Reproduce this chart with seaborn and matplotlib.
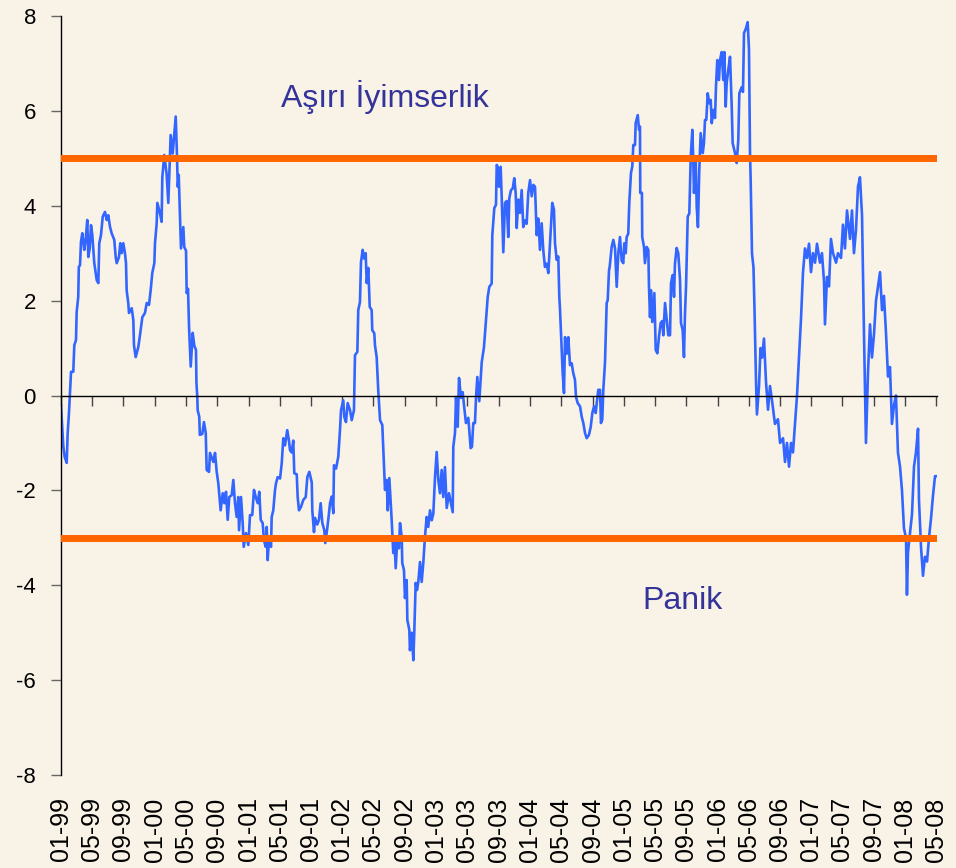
import numpy as np
import pandas as pd
import matplotlib
matplotlib.use("Agg")
import matplotlib.pyplot as plt
import matplotlib.dates as mdates
import seaborn as sns

# sentiment index, time as fractional year
years = [
    1999.000, 1999.025, 1999.040, 1999.061, 1999.071, 1999.085, 1999.096, 1999.107, 1999.131, 1999.142,
    1999.160, 1999.167, 1999.184, 1999.190, 1999.203, 1999.213, 1999.227, 1999.248, 1999.263, 1999.280,
    1999.291, 1999.306, 1999.320, 1999.334, 1999.355, 1999.381, 1999.398, 1999.408, 1999.426, 1999.445,
    1999.469, 1999.487, 1999.504, 1999.522, 1999.540, 1999.568, 1999.583, 1999.594, 1999.618, 1999.632,
    1999.647, 1999.664, 1999.682, 1999.693, 1999.700, 1999.717, 1999.725, 1999.754, 1999.771, 1999.778,
    1999.796, 1999.824, 1999.842, 1999.867, 1999.895, 1999.914, 1999.938, 1999.956, 1999.973, 1999.995,
    2000.002, 2000.020, 2000.027, 2000.055, 2000.073, 2000.080, 2000.101, 2000.126, 2000.144, 2000.169,
    2000.191, 2000.223, 2000.235, 2000.245, 2000.255, 2000.279, 2000.304, 2000.314, 2000.333, 2000.340,
    2000.354, 2000.365, 2000.383, 2000.404, 2000.421, 2000.439, 2000.444, 2000.453, 2000.457, 2000.474,
    2000.480, 2000.506, 2000.524, 2000.543, 2000.553, 2000.578, 2000.588, 2000.624, 2000.642, 2000.660,
    2000.677, 2000.702, 2000.724, 2000.741, 2000.759, 2000.777, 2000.794, 2000.820, 2000.837, 2000.855,
    2000.873, 2000.890, 2000.898, 2000.919, 2000.937, 2000.948, 2000.972, 2000.997, 2001.015, 2001.039,
    2001.057, 2001.076, 2001.097, 2001.114, 2001.129, 2001.150, 2001.164, 2001.182, 2001.193, 2001.203,
    2001.217, 2001.239, 2001.246, 2001.263, 2001.281, 2001.292, 2001.310, 2001.335, 2001.353, 2001.370,
    2001.388, 2001.412, 2001.430, 2001.441, 2001.459, 2001.476, 2001.487, 2001.513, 2001.523, 2001.537,
    2001.558, 2001.583, 2001.609, 2001.626, 2001.647, 2001.673, 2001.679, 2001.697, 2001.708, 2001.732,
    2001.750, 2001.768, 2001.786, 2001.807, 2001.817, 2001.839, 2001.857, 2001.868, 2001.886, 2001.903,
    2001.910, 2001.932, 2001.956, 2001.974, 2001.985, 2002.009, 2002.020, 2002.038, 2002.056, 2002.081,
    2002.099, 2002.123, 2002.134, 2002.159, 2002.169, 2002.187, 2002.198, 2002.216, 2002.230, 2002.248,
    2002.259, 2002.276, 2002.291, 2002.312, 2002.318, 2002.340, 2002.347, 2002.365, 2002.382, 2002.401,
    2002.425, 2002.436, 2002.454, 2002.472, 2002.483, 2002.500, 2002.515, 2002.525, 2002.542, 2002.553,
    2002.568, 2002.585, 2002.603, 2002.614, 2002.632, 2002.638, 2002.656, 2002.667, 2002.685, 2002.692,
    2002.713, 2002.720, 2002.739, 2002.756, 2002.766, 2002.781, 2002.795, 2002.809, 2002.827, 2002.845,
    2002.862, 2002.880, 2002.898, 2002.915, 2002.934, 2002.952, 2002.969, 2002.987, 2003.005, 2003.022,
    2003.040, 2003.058, 2003.075, 2003.093, 2003.112, 2003.136, 2003.157, 2003.176, 2003.182, 2003.200,
    2003.211, 2003.229, 2003.243, 2003.264, 2003.282, 2003.299, 2003.317, 2003.342, 2003.367, 2003.381,
    2003.395, 2003.413, 2003.424, 2003.438, 2003.459, 2003.485, 2003.509, 2003.527, 2003.549, 2003.566,
    2003.591, 2003.598, 2003.619, 2003.637, 2003.645, 2003.655, 2003.669, 2003.687, 2003.698, 2003.715,
    2003.733, 2003.751, 2003.768, 2003.779, 2003.797, 2003.815, 2003.832, 2003.847, 2003.858, 2003.875,
    2003.893, 2003.911, 2003.928, 2003.946, 2003.964, 2003.981, 2004.000, 2004.018, 2004.035, 2004.053,
    2004.071, 2004.088, 2004.106, 2004.124, 2004.141, 2004.159, 2004.178, 2004.195, 2004.213, 2004.237,
    2004.255, 2004.266, 2004.284, 2004.301, 2004.312, 2004.319, 2004.338, 2004.348, 2004.362, 2004.373,
    2004.391, 2004.408, 2004.426, 2004.444, 2004.461, 2004.479, 2004.490, 2004.508, 2004.533, 2004.551,
    2004.568, 2004.586, 2004.604, 2004.628, 2004.647, 2004.664, 2004.682, 2004.700, 2004.711, 2004.728,
    2004.746, 2004.756, 2004.770, 2004.781, 2004.799, 2004.817, 2004.828, 2004.842, 2004.849, 2004.870,
    2004.888, 2004.906, 2004.924, 2004.941, 2004.959, 2004.977, 2004.994, 2005.005, 2005.020, 2005.030,
    2005.047, 2005.058, 2005.076, 2005.090, 2005.101, 2005.119, 2005.126, 2005.148, 2005.162, 2005.172,
    2005.175, 2005.193, 2005.196, 2005.215, 2005.225, 2005.244, 2005.261, 2005.268, 2005.279, 2005.289,
    2005.303, 2005.325, 2005.340, 2005.357, 2005.375, 2005.393, 2005.410, 2005.421, 2005.439, 2005.457,
    2005.474, 2005.492, 2005.503, 2005.521, 2005.535, 2005.545, 2005.563, 2005.580, 2005.599, 2005.609,
    2005.627, 2005.641, 2005.652, 2005.663, 2005.681, 2005.698, 2005.713, 2005.730, 2005.740, 2005.748,
    2005.766, 2005.777, 2005.790, 2005.804, 2005.819, 2005.841, 2005.854, 2005.865, 2005.879, 2005.894,
    2005.911, 2005.926, 2005.937, 2005.954, 2005.972, 2005.982, 2005.996, 2006.014, 2006.025, 2006.043,
    2006.060, 2006.071, 2006.086, 2006.096, 2006.113, 2006.132, 2006.150, 2006.160, 2006.185, 2006.203,
    2006.220, 2006.231, 2006.256, 2006.270, 2006.281, 2006.302, 2006.320, 2006.334, 2006.345, 2006.352,
    2006.366, 2006.382, 2006.393, 2006.409, 2006.419, 2006.441, 2006.457, 2006.473, 2006.494, 2006.515,
    2006.537, 2006.558, 2006.579, 2006.611, 2006.643, 2006.665, 2006.697, 2006.718, 2006.739, 2006.761,
    2006.782, 2006.803, 2006.824, 2006.846, 2006.867, 2006.888, 2006.910, 2006.931, 2006.952, 2006.974,
    2006.995, 2007.016, 2007.038, 2007.059, 2007.091, 2007.112, 2007.134, 2007.144, 2007.166, 2007.187,
    2007.208, 2007.230, 2007.262, 2007.283, 2007.315, 2007.336, 2007.357, 2007.379, 2007.411, 2007.432,
    2007.453, 2007.475, 2007.496, 2007.517, 2007.539, 2007.560, 2007.581, 2007.603, 2007.624, 2007.645,
    2007.667, 2007.688, 2007.709, 2007.731, 2007.752, 2007.773, 2007.795, 2007.816, 2007.837, 2007.858,
    2007.880, 2007.901, 2007.922, 2007.944, 2007.965, 2007.986, 2008.008, 2008.018, 2008.029, 2008.050,
    2008.072, 2008.093, 2008.114, 2008.136, 2008.146, 2008.168, 2008.189, 2008.210, 2008.232, 2008.253,
    2008.274, 2008.296, 2008.317, 2008.338,
]
values = [
    -0.20, -1.08, -1.30, -1.42, -0.80, -0.37, 0.05, 0.50, 0.50, 1.06,
    1.17, 1.76, 2.08, 2.71, 2.75, 3.24, 3.42, 3.07, 3.28, 3.70,
    2.92, 3.10, 3.59, 3.38, 2.79, 2.43, 2.37, 3.21, 3.38, 3.77,
    3.87, 3.70, 3.80, 3.56, 3.42, 3.28, 2.92, 2.79, 2.92, 3.21,
    3.00, 3.21, 3.00, 2.79, 2.22, 1.95, 1.74, 1.84, 1.59, 1.06,
    0.81, 1.02, 1.27, 1.65, 1.74, 1.95, 1.91, 2.22, 2.58, 2.79,
    3.21, 3.63, 4.06, 3.84, 3.66, 4.60, 5.07, 4.67, 4.06, 5.49,
    5.10, 5.88, 5.15, 4.40, 4.65, 3.10, 3.55, 3.13, 3.05, 2.16,
    2.25, 1.45, 0.61, 1.32, 1.05, 0.96, 0.26, -0.03, -0.31, -0.45,
    -0.83, -0.81, -0.56, -0.79, -1.57, -1.61, -1.21, -1.40, -1.21, -1.61,
    -1.85, -2.42, -2.06, -2.27, -2.03, -2.62, -2.14, -2.10, -1.78, -2.27,
    -2.56, -2.14, -2.84, -2.14, -2.69, -3.19, -2.90, -3.15, -2.52, -2.52,
    -1.99, -2.14, -2.27, -2.03, -2.62, -2.69, -3.05, -3.19, -2.77, -3.47,
    -3.05, -3.19, -2.56, -2.42, -2.00, -1.85, -1.72, -1.75, -1.43, -0.90,
    -1.05, -0.73, -0.95, -1.15, -1.20, -0.95, -1.64, -1.66, -2.14, -2.42,
    -2.35, -2.20, -2.14, -1.72, -1.61, -1.83, -2.42, -2.88, -2.58, -2.72,
    -2.62, -2.27, -2.69, -2.84, -3.11, -2.79, -2.48, -2.27, -2.13, -2.48,
    -1.47, -1.54, -1.29, -0.73, -0.31, -0.10, -0.45, -0.56, -0.16, -0.31,
    -0.52, -0.31, 0.85, 0.92, 1.80, 1.97, 2.81, 3.07, 2.89, 3.00,
    2.37, 2.69, 1.87, 1.80, 1.38, 1.31, 1.06, 0.81, 0.11, -0.52,
    -0.62, -1.15, -1.99, -1.78, -2.42, -1.74, -2.27, -2.62, -3.32, -2.98,
    -3.64, -3.05, -3.22, -2.69, -2.98, -3.53, -3.68, -4.27, -3.89, -4.73,
    -4.94, -5.37, -5.00, -5.58, -4.99, -3.95, -4.10, -3.93, -3.51, -3.93,
    -3.53, -2.98, -2.56, -2.77, -2.42, -2.63, -2.49, -1.72, -1.19, -1.78,
    -2.06, -1.57, -2.14, -1.51, -2.37, -2.06, -2.27, -2.46, -1.08, -0.79,
    -0.03, -0.66, 0.37, -0.05, 0.07, -0.26, -0.58, -0.47, -1.11, -1.08,
    -0.58, -0.58, -0.05, 0.39, -0.12, 0.70, 1.02, 1.49, 2.08, 2.29,
    2.36, 3.38, 3.95, 4.02, 4.86, 4.82, 4.40, 4.82, 4.18, 3.02,
    4.06, 4.10, 3.34, 4.16, 4.33, 4.36, 4.58, 4.27, 3.53, 4.13,
    3.85, 4.33, 3.55, 3.69, 3.62, 4.27, 4.54, 4.20, 4.44, 4.40,
    3.38, 3.73, 3.07, 3.63, 3.07, 2.71, 2.78, 2.58, 3.21, 4.06,
    3.92, 3.21, 2.86, 2.93, 2.08, 1.84, 0.96, 0.47, 0.05, 1.23,
    0.88, 1.23, 0.64, 0.68, 0.47, 0.33, -0.03, -0.16, -0.23, -0.45,
    -0.58, -0.79, -0.90, -0.83, -0.66, -0.37, -0.23, -0.37, -0.16, 0.12,
    0.12, -0.58, -0.51, 0.12, 0.69, 1.95, 2.01, 2.64, 2.71, 3.13,
    3.28, 3.10, 2.29, 3.00, 3.34, 2.84, 2.79, 3.21, 3.00, 3.34,
    3.41, 4.06, 4.69, 4.83, 5.28, 5.28, 5.74, 5.91, 5.60, 5.67,
    4.27, 4.27, 3.34, 3.13, 2.79, 3.13, 3.07, 2.29, 1.65, 2.22,
    1.55, 2.16, 0.96, 0.89, 1.25, 1.53, 1.57, 1.27, 1.95, 1.60,
    1.27, 1.27, 2.37, 2.54, 2.08, 2.78, 3.11, 3.00, 2.43, 1.53,
    1.38, 0.81, 1.74, 2.29, 3.77, 3.84, 5.03, 5.60, 4.97, 4.27,
    4.97, 3.97, 3.55, 4.75, 5.53, 5.11, 5.32, 5.81, 5.81, 6.37,
    6.16, 6.23, 5.74, 6.02, 5.85, 6.50, 7.07, 6.65, 7.07, 7.24,
    6.65, 7.24, 6.09, 6.58, 6.86, 7.14, 6.09, 5.32, 5.11, 4.90,
    5.38, 6.37, 6.50, 6.40, 7.64, 7.74, 7.87, 7.30, 5.11, 4.54,
    3.00, 2.70, 1.80, 0.30, -0.40, 0.20, 1.00, 0.80, 1.20, 0.30,
    -0.30, 0.20, -0.10, -0.60, -0.50, -1.00, -0.90, -1.40, -1.00, -1.50,
    -1.00, -1.20, -0.60, 0.00, 0.80, 1.60, 2.60, 3.10, 2.90, 3.20,
    2.60, 3.00, 2.80, 3.20, 2.80, 3.00, 2.40, 1.50, 2.50, 2.30,
    3.30, 3.00, 2.80, 3.00, 2.90, 3.60, 3.10, 3.90, 3.30, 3.90,
    3.00, 3.50, 4.40, 4.60, 3.80, 1.30, -1.00, 0.50, 1.50, 0.80,
    1.30, 2.00, 2.30, 2.60, 1.80, 2.10, 1.30, 0.40, 0.60, -0.60,
    -0.20, 0.00, -1.20, -1.50, -2.00, -2.80, -3.00, -4.20, -3.30, -2.90,
    -2.50, -1.50, -1.20, -0.70, -2.20, -3.20, -3.80, -3.40, -3.50, -3.00,
    -2.60, -2.10, -1.70, -1.70,
]

upper_band = 5
lower_band = -3
y_ticks = list(range(-8, 9, 2))
tick_months = pd.date_range("1999-01-01", "2008-05-01", freq="4MS")
tick_labels = [d.strftime("%m-%y") for d in tick_months]

BG = "#F9F3E7"
LINE_COLOR = "#3366FF"
BAND_COLOR = "#FF6600"
TEXT_COLOR = "#333399"

sns.set_theme(style="white")
plt.rcParams["font.family"] = ["Liberation Sans", "DejaVu Sans"]
plt.rcParams["axes.unicode_minus"] = False

dates = pd.Timestamp("1999-01-01") + pd.to_timedelta((np.array(years) - 1999) * 365.25, unit="D")
df = pd.DataFrame({"x": mdates.date2num(dates), "value": values})
tick_nums = mdates.date2num(tick_months)

fig = plt.figure(figsize=(9.56, 8.68), dpi=100, facecolor=BG)
ax = fig.add_axes([0.0638, 0.1071, 0.9163, 0.8745])
ax.set_facecolor(BG)

sns.lineplot(data=df, x="x", y="value", ax=ax, color=LINE_COLOR, linewidth=1.9,
             estimator=None, sort=False, legend=False, zorder=2)

ax.axhline(upper_band, color=BAND_COLOR, linewidth=5, zorder=3)
ax.axhline(lower_band, color=BAND_COLOR, linewidth=5, zorder=3)

ax.set_xlim(tick_nums[0], df["x"].max())
ax.set_ylim(-8, 8)
ax.set_xlabel("")
ax.set_ylabel("")

# y axis
ax.set_yticks(y_ticks)
ax.tick_params(axis="y", left=True, length=7, width=1, color="#666666",
               pad=11, labelsize=16, labelcolor="black")

# x axis line crosses at zero, tick marks hang from it
ax.spines["bottom"].set_position(("data", 0))
ax.spines["bottom"].set_color("black")
ax.spines["bottom"].set_linewidth(1)
ax.spines["left"].set_color("black")
ax.spines["left"].set_linewidth(1)
ax.spines["top"].set_visible(False)
ax.spines["right"].set_visible(False)
ax.set_xticks(tick_nums)
ax.tick_params(axis="x", bottom=True, length=7, width=1, color="#444444",
               direction="out", labelbottom=False)

# date labels stay at the bottom of the plot
sec = ax.secondary_xaxis("bottom")
sec.set_xticks(tick_nums, labels=tick_labels)
sec.tick_params(axis="x", length=0, labelsize=18, rotation=90, pad=16, labelcolor="black")
sec.spines["bottom"].set_visible(False)

ax.text(0.370, 0.893, "Aşırı İyimserlik", transform=ax.transAxes,
        ha="center", va="center", fontsize=23, color=TEXT_COLOR)
ax.text(0.709, 0.229, "Panik", transform=ax.transAxes,
        ha="center", va="center", fontsize=23, color=TEXT_COLOR)

fig.savefig("out.png", dpi=100, facecolor=BG)
